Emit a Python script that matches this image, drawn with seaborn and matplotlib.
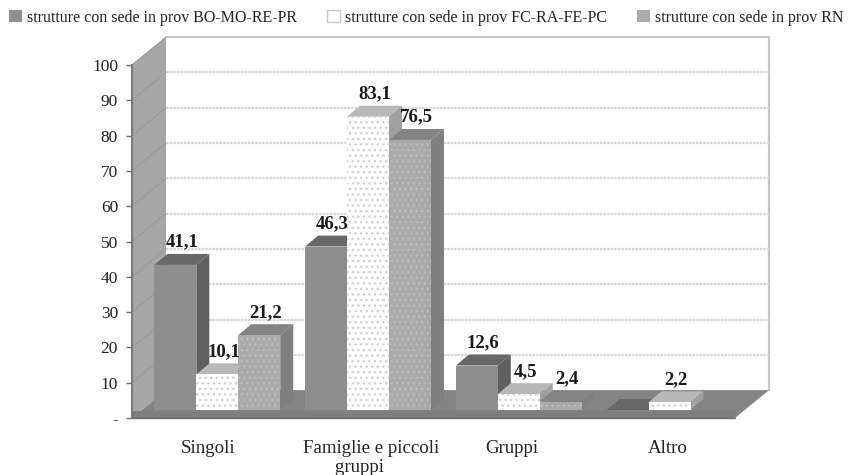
import pandas as pd
import matplotlib.pyplot as plt
import seaborn as sns
from matplotlib.patches import Polygon, Patch
from matplotlib.transforms import Affine2D

categories = ['Singoli', 'Famiglie e piccoli\ngruppi     ', 'Gruppi', 'Altro']
series_names = ['strutture con sede in prov BO-MO-RE-PR',
                'strutture con sede in prov FC-RA-FE-PC',
                'strutture con sede in prov RN']
values_bo = [41.1, 46.3, 12.6, 0]
values_fc = [10.1, 83.1, 4.5, 2.2]
values_rn = [21.2, 76.5, 2.4, 0]
y_ticks = [0, 10, 20, 30, 40, 50, 60, 70, 80, 90, 100]
y_tick_labels = ['-', '10', '20', '30', '40', '50', '60', '70', '80', '90', '100']

# Fake 3D look, everything in data units (1 category = 151 px, 1 y unit = 3.53 px)
BACK_X, BACK_Y = 0.2255, 7.9      # wall offset from the front plane
BAR_X, BAR_Y = 0.066, 2.27        # where the bars stand on the floor
SIDE_X, SIDE_Y = 0.086, 3.1       # depth of one bar

front_colors = ['#8e8e8e', '#ffffff', '#a9a9a9']
side_colors = ['#606060', '#a0a0a0', '#7f7f7f']
top_colors = ['#686868', '#b8b8b8', '#848484']
hatch_colors = ['#8e8e8e', '#d0d0d0', '#bdbdbd']
hatches = [None, '...', '...']

df = pd.DataFrame({'cat': categories * 3,
                   'serie': sum([[s] * 4 for s in series_names], []),
                   'val': values_bo + values_fc + values_rn})

sns.set_theme(style='ticks')
plt.rcParams['font.family'] = ['Liberation Serif', 'DejaVu Serif']

fig = plt.figure(figsize=(8.49, 4.75), dpi=100)
ax = fig.add_axes([132 / 849, 1 - 418 / 475, 603 / 849, 353 / 475])

sns.barplot(data=df, x='cat', y='val', hue='serie', palette=front_colors,
            saturation=1, width=0.835, gap=0, ax=ax, legend=False, errorbar=None)
ax.set_xlim(-0.5, 3.5)
ax.set_ylim(0, 100)
ax.set_xlabel('')
ax.set_ylabel('')
ax.patch.set_visible(False)


def face(points, color, z):
    ax.add_patch(Polygon(points, closed=True, facecolor=color, edgecolor='none',
                         clip_on=False, zorder=z))


# Walls and floor
x0, x1 = -0.5, 3.5
face([(x0 + BACK_X, BACK_Y), (x0 + BACK_X, 100 + BACK_Y), (x1 + BACK_X, 100 + BACK_Y),
      (x1 + BACK_X, BACK_Y)], 'white', 0.5)
ax.plot([x0 + BACK_X, x1 + BACK_X, x1 + BACK_X], [100 + BACK_Y, 100 + BACK_Y, BACK_Y],
        color='#c6c6c6', lw=1.5, clip_on=False, zorder=0.6)
face([(x0, 0), (x0, 100), (x0 + BACK_X, 100 + BACK_Y), (x0 + BACK_X, BACK_Y)], '#a6a6a6', 0.7)
face([(x0, 0), (x0 + BACK_X, BACK_Y), (x1 + BACK_X, BACK_Y), (x1, 0)], '#848484', 0.8)
ax.plot([x0, x1], [1.1, 1.1], color='#7e7e7e', lw=5, clip_on=False, zorder=0.9,
        solid_capstyle='butt')
ax.plot([x0, x1], [0, 0], color='#6e6e6e', lw=1, clip_on=False, zorder=0.95)
for t in y_ticks[1:-1]:
    ax.plot([x0 + BACK_X, x1 + BACK_X], [t + BACK_Y, t + BACK_Y], color='#d8d8d8', lw=1.6,
            ls=(0, (1.2, 0.4)), clip_on=False, zorder=0.6)
    ax.plot([x0, x0 + BACK_X], [t, t + BACK_Y], color='#9a9a9a', lw=0.8, clip_on=False, zorder=0.75)
ax.plot([x0, x0 + BACK_X], [100, 100 + BACK_Y], color='#9a9a9a', lw=0.8, clip_on=False, zorder=0.75)

# Bars: seaborn draws the fronts, the side and top faces are built from them
for s, container in enumerate(ax.containers):
    for c, bar in enumerate(container):
        z = 2 + c + s * 0.2
        left = bar.get_x() + BAR_X
        right = left + bar.get_width()
        h = bar.get_height() + BAR_Y
        bar.set_xy((left, BAR_Y))
        bar.set_zorder(z + 0.1)
        bar.set_linewidth(0)
        bar.set_edgecolor(hatch_colors[s])
        bar.set_clip_on(False)
        if hatches[s]:
            bar.set_hatch(hatches[s])
        face([(left, h), (left + SIDE_X, h + SIDE_Y), (right + SIDE_X, h + SIDE_Y), (right, h)],
             top_colors[s], z)
        if bar.get_height() > 0:
            face([(right, BAR_Y), (right, h), (right + SIDE_X, h + SIDE_Y),
                  (right + SIDE_X, BAR_Y + SIDE_Y)], side_colors[s], z)
            ax.annotate(f'{bar.get_height():.1f}'.replace('.', ','),
                        (left + bar.get_width() / 2 + SIDE_X / 2, h + SIDE_Y),
                        xytext=(0, 8.5), textcoords='offset points', ha='center', va='center',
                        fontsize=13.5, fontweight='bold', color='#1a1a1a', zorder=20,
                        annotation_clip=False)

# Axes
ax.set_yticks(y_ticks)
ax.set_yticklabels(y_tick_labels, fontsize=12.5, color='#222222')
ax.tick_params(axis='y', length=4, width=1, color='#707070', pad=6)
ax.tick_params(axis='x', length=0, pad=15.5, labelsize=13.6, labelcolor='#222222')
# labels in the original are not quite centred under their groups
label_shift = [1, 13, 3, 8]
for lab, dx in zip(ax.get_xticklabels(), label_shift):
    lab.set_linespacing(1.2)
    lab.set_transform(lab.get_transform() + Affine2D().translate(dx, 0))
sns.despine(ax=ax, bottom=True)
ax.spines['left'].set_color('#707070')
ax.spines['left'].set_linewidth(1.3)
ax.spines['left'].set_zorder(1)

# Legend
handles = [Patch(facecolor=front_colors[0], edgecolor='none'),
           Patch(facecolor='white', edgecolor='#c8c8c8'),
           Patch(facecolor=front_colors[2], edgecolor='none')]
fig.legend(handles, series_names, loc='upper left', bbox_to_anchor=(-0.006, 1.01), ncol=3,
           frameon=False, fontsize=11.5, handlelength=0.8, handleheight=0.8,
           handletextpad=0.3, columnspacing=1.9, labelcolor='#222222')

fig.savefig('out.png', dpi=100)
